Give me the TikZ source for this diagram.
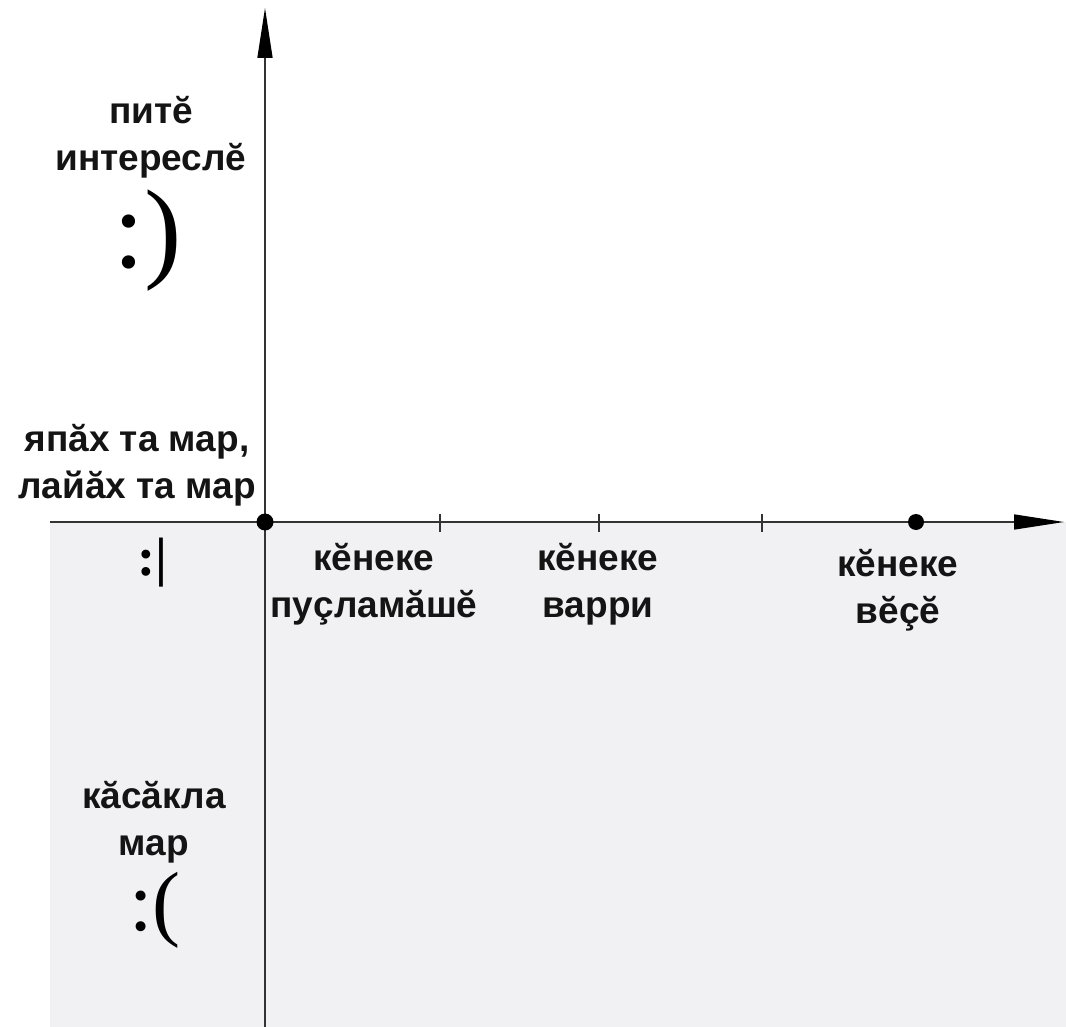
\documentclass[tikz,border=0pt]{standalone}
\usepackage{fontspec}
\setmainfont{Liberation Sans}
\newfontfamily\smileyfont{Liberation Serif}
\usetikzlibrary{arrows.meta}
\definecolor{bgray}{HTML}{F1F1F3}
\definecolor{axiscol}{HTML}{333333}
\begin{document}
\begin{tikzpicture}[x=1pt,y=-1pt,
  axis/.style={draw=axiscol,line width=1.5pt,-{Triangle[length=50pt,width=15pt,fill=black,color=black]}},
  lbl/.style={font=\fontsize{37}{47}\selectfont\bfseries,align=center,inner sep=0pt,text=black!92},
  tickmark/.style={draw=axiscol,line width=1.2pt},
  bigdot/.style={circle,fill=black,inner sep=0pt,minimum size=17pt},
  smalldot/.style={circle,fill=black,inner sep=0pt,minimum size=16pt}]
\useasboundingbox (0,0) rectangle (1066,1027);
\fill[bgray] (50,522) rectangle (1066,1027);
\coordinate (xstart) at (50,522);
\coordinate (xend) at (1064,522);
\coordinate (ybot) at (265,1027);
\coordinate (ytop) at (265,8);
\draw[axis] (xstart) -- (xend);
\draw[axis] (ybot) -- (ytop);
\node[bigdot] (origin) at (265,522) {};
\node[smalldot] (end) at (916,522) {};
\coordinate (t1) at (440,522);
\coordinate (t2) at (599,522);
\coordinate (t3) at (762,522);
\foreach \t in {t1,t2,t3} \draw[tickmark] ([yshift=-10pt]\t) -- ([yshift=8pt]\t);
\node[lbl] (top) at (151,137) {питӗ\\интереслӗ};
\node[font=\smileyfont\fontsize{112}{112}\selectfont,inner sep=0pt] (happy) at (148,241) {:)};
\node[lbl] (mid) at (137,465) {япăх та мар,\\лайăх та мар};
\node[font=\smileyfont\bfseries\fontsize{54}{54}\selectfont,inner sep=0pt] (neutral) at (152,563) {:|};
\node[lbl] (begin) at (374,584) {кӗнеке\\пуçламăшӗ};
\node[lbl] (middle) at (598,584) {кӗнеке\\варри};
\node[lbl] (finish) at (898,590) {кӗнеке\\вӗçӗ};
\node[lbl] (bad) at (154,822) {кăсăкла\\мар};
\node[font=\smileyfont\fontsize{84}{84}\selectfont,inner sep=0pt] (sad) at (155,910) {:(};
\end{tikzpicture}
\end{document}
